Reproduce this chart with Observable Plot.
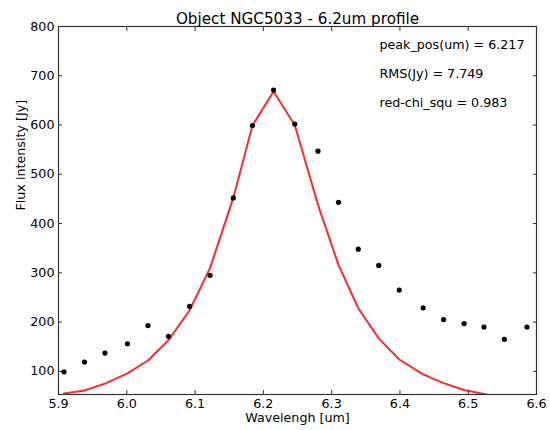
<!DOCTYPE html>
<html>
<head>
<meta charset="utf-8">
<script src="https://cdn.jsdelivr.net/npm/d3@7"></script>
<script src="https://cdn.jsdelivr.net/npm/@observablehq/plot@0.6"></script>
<style>
  html, body { margin: 0; padding: 0; background: #fff; }
  #chart svg { display: block; }
</style>
</head>
<body>
<div id="chart"></div>
<script>
const titleText = "Object NGC5033 - 6.2um profile";
const xLabel = "Wavelengh [um]";
const yLabel = "Flux intensity [Jy]";

const wavelength = [5.908, 5.938, 5.968, 6.001, 6.031, 6.061, 6.092, 6.122, 6.156, 6.184, 6.215, 6.246,
                    6.280, 6.310, 6.339, 6.369, 6.399, 6.434, 6.464, 6.494, 6.523, 6.553, 6.586];
const flux = [99, 119, 137, 156, 193, 171, 232, 295, 452, 599, 671, 602,
              547, 443, 348, 315, 265, 229, 205, 197, 190, 165, 190];
const fit = [55, 61, 75, 96, 122, 163, 224, 310, 452, 599, 668, 600,
             438, 316, 228, 167, 124, 94, 76, 62, 54, 46, 40];

const xTicks = [5.9, 6.0, 6.1, 6.2, 6.3, 6.4, 6.5, 6.6];
const yTicks = [100, 200, 300, 400, 500, 600, 700, 800];

const annotations = ["peak_pos(um) = 6.217", "RMS(Jy) = 7.749", "red-chi_squ = 0.983"];
const annotX = [6.370, 6.370, 6.370];
const annotY = [762, 703, 644];

const points = wavelength.map((w, i) => ({w, f: flux[i]}));
const fitLine = wavelength.map((w, i) => ({w, f: fit[i]}));
const notes = annotations.map((t, i) => ({t, x: annotX[i], y: annotY[i]}));

const axisColor = "#333";
const fs = 12.7;
const fmtX = d3.format(".1f");

const chart = Plot.plot({
  width: 550,
  height: 430,
  marginLeft: 58,
  marginRight: 14,
  marginTop: 26,
  marginBottom: 36,
  style: {fontFamily: "'DejaVu Sans', sans-serif", fontSize: fs + "px", color: "#000", background: "#fff"},
  x: {domain: [5.9, 6.6], ticks: xTicks, tickFormat: fmtX},
  y: {domain: [53, 800], ticks: yTicks},
  marks: [
    Plot.line(fitLine, {x: "w", y: "f", stroke: "#ff2a2a", strokeWidth: 2, clip: true}),
    Plot.dot(points, {x: "w", y: "f", r: 2.6, fill: "#000", stroke: null, clip: true}),
    Plot.frame({stroke: axisColor, strokeWidth: 1.2}),
    // tick labels
    Plot.axisX({anchor: "bottom", ticks: xTicks, tickFormat: fmtX, tickSize: 0, tickPadding: 4, label: null, fill: "#000", fontSize: fs}),
    Plot.axisY({anchor: "left", ticks: yTicks, tickSize: 0, tickPadding: 4, label: null, fill: "#000", fontSize: fs}),
    // inward ticks on all four sides
    Plot.axisX({anchor: "bottom", ticks: xTicks, tickSize: -4, text: null, label: null, stroke: axisColor}),
    Plot.axisX({anchor: "top", ticks: xTicks, tickSize: -4, text: null, label: null, stroke: axisColor}),
    Plot.axisY({anchor: "left", ticks: yTicks, tickSize: -4, text: null, label: null, stroke: axisColor}),
    Plot.axisY({anchor: "right", ticks: yTicks, tickSize: -4, text: null, label: null, stroke: axisColor}),
    // annotations
    Plot.text(notes, {x: "x", y: "y", text: "t", textAnchor: "start", fontSize: fs, fill: "#000"}),
    // title and axis labels
    Plot.text([titleText], {frameAnchor: "top", dy: -13, fontSize: 15.2, fill: "#000"}),
    Plot.text([xLabel], {frameAnchor: "bottom", dy: 27, fontSize: fs, fill: "#000"}),
    Plot.text([yLabel], {frameAnchor: "left", dx: -38, rotate: -90, fontSize: fs, fill: "#000"})
  ]
});
document.getElementById("chart").appendChild(chart);
</script>
</body>
</html>
